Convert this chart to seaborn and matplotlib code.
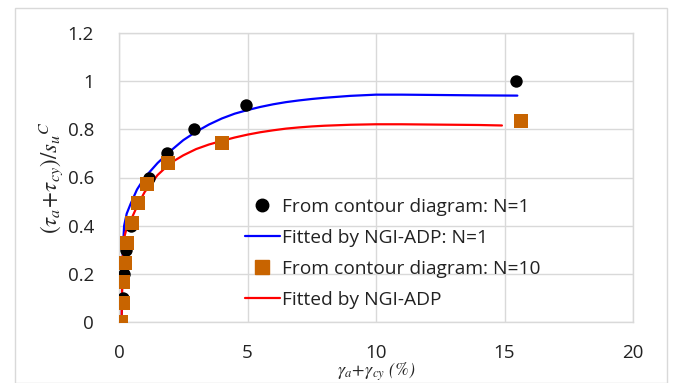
import matplotlib
matplotlib.use("Agg")
import matplotlib.pyplot as plt
import seaborn as sns
import pandas as pd
from matplotlib.patches import Rectangle
from matplotlib.lines import Line2D

# ---- data ----
n1_x = [0.0, 0.16, 0.2, 0.27, 0.47, 1.17, 1.87, 2.92, 4.93, 15.43]
n1_y = [0.0, 0.1, 0.2, 0.3, 0.4, 0.6, 0.7, 0.8, 0.9, 1.0]

n10_x = [0.08, 0.17, 0.17, 0.22, 0.3, 0.52, 0.75, 1.08, 1.92, 4.0, 15.63]
n10_y = [0.0, 0.08, 0.165, 0.245, 0.33, 0.41, 0.495, 0.575, 0.66, 0.745, 0.833]

fit1_x = [0.1, 0.12, 0.15, 0.2, 0.3, 0.45, 0.7, 1.0, 1.5, 2.0, 2.5, 3.0, 3.5, 4.0, 4.5, 5.0, 5.5, 6.0, 6.5, 7.0,
          7.5, 8.0, 9.0, 10.0, 11.0, 12.0, 13.0, 14.0, 15.5]
fit1_y = [0.0, 0.15, 0.3, 0.4, 0.45, 0.49, 0.55, 0.6, 0.66, 0.71, 0.755, 0.79, 0.82, 0.845, 0.865, 0.88, 0.893, 0.904,
          0.913, 0.92, 0.926, 0.931, 0.939, 0.944, 0.944, 0.943, 0.942, 0.941, 0.94]

fit10_x = [0.1, 0.12, 0.15, 0.2, 0.3, 0.45, 0.7, 1.0, 1.5, 2.0, 2.5, 3.0, 3.5, 4.0, 4.5, 5.0, 5.5, 6.0, 6.5, 7.0,
           7.5, 8.0, 9.0, 10.0, 11.0, 12.0, 13.0, 14.0, 14.9]
fit10_y = [0.0, 0.13, 0.27, 0.35, 0.39, 0.42, 0.48, 0.54, 0.61, 0.66, 0.692, 0.718, 0.737, 0.752, 0.766, 0.778, 0.788,
           0.796, 0.803, 0.808, 0.812, 0.815, 0.819, 0.821, 0.821, 0.82, 0.819, 0.818, 0.816]

labels = ["From contour diagram: N=1", "Fitted by NGI-ADP: N=1",
          "From contour diagram: N=10", "Fitted by NGI-ADP"]
x_ticks = [0, 5, 10, 15, 20]
y_ticks = [0, 0.2, 0.4, 0.6, 0.8, 1.0, 1.2]
y_tick_labels = ["0", "0.2", "0.4", "0.6", "0.8", "1", "1.2"]

sns.set_theme(style="whitegrid")
plt.rcParams['font.family'] = ['Open Sans', 'DejaVu Sans']
plt.rcParams['mathtext.fontset'] = 'stix'

fig = plt.figure(figsize=(6.73, 3.83), dpi=100)
fig.patches.append(Rectangle((15/673, 0.0), 652/673, 1 - 8/383, transform=fig.transFigure,
                             fill=False, edgecolor='#d9d9d9', linewidth=1.0))
ax = fig.add_axes([119/673, 1 - 322/383, (633-119)/673, (322-33)/383])

df1 = pd.DataFrame({"x": fit1_x, "y": fit1_y})
df10 = pd.DataFrame({"x": fit10_x, "y": fit10_y})
p1 = pd.DataFrame({"x": n1_x, "y": n1_y})
p10 = pd.DataFrame({"x": n10_x, "y": n10_y})

sns.lineplot(data=df1, x="x", y="y", sort=False, color='#0000ff', linewidth=1.6, ax=ax, zorder=2)
sns.lineplot(data=df10, x="x", y="y", sort=False, color='#ff0000', linewidth=1.6, ax=ax, zorder=2)
sns.scatterplot(data=p1, x="x", y="y", color='black', marker='o', s=80, linewidth=0, ax=ax, zorder=3)
sns.scatterplot(data=p10, x="x", y="y", color='#c86400', marker='s', s=95, linewidth=0, ax=ax, zorder=4)

ax.set_xlim(0, 20)
ax.set_ylim(0, 1.2)
ax.set_xticks(x_ticks)
ax.set_yticks(y_ticks)
ax.set_yticklabels(y_tick_labels)
ax.tick_params(axis='both', length=0, labelsize=13.5, colors='#222222')
ax.tick_params(axis='x', pad=16)
ax.tick_params(axis='y', pad=18)
ax.grid(True, color='#d9d9d9', linewidth=1.0)
for s in ax.spines.values():
    s.set_color('#d9d9d9')
    s.set_linewidth(1.0)

ax.set_xlabel(r'$\gamma_a\!+\!\gamma_{cy}$ (%)', fontsize=13, labelpad=-1,
              fontfamily='STIXGeneral', fontstyle='italic')
ax.set_ylabel(r'$(\tau_a\!+\!\tau_{cy})/s_u{}^{C}$', fontsize=16.5, labelpad=2)

handles = [
    Line2D([], [], color='black', marker='o', linestyle='none', markersize=9),
    Line2D([], [], color='#0000ff', linewidth=1.6),
    Line2D([], [], color='#c86400', marker='s', linestyle='none', markersize=10),
    Line2D([], [], color='#ff0000', linewidth=1.6),
]
leg = ax.legend(handles, labels, loc='upper left', bbox_to_anchor=((245-119)/514, (322-198)/289),
                frameon=False, fontsize=13.8, labelspacing=0.68, handlelength=1.8,
                handletextpad=0.15, borderaxespad=0, borderpad=0)
for t in leg.get_texts():
    t.set_color('#222222')

fig.savefig("out.png", dpi=100)
